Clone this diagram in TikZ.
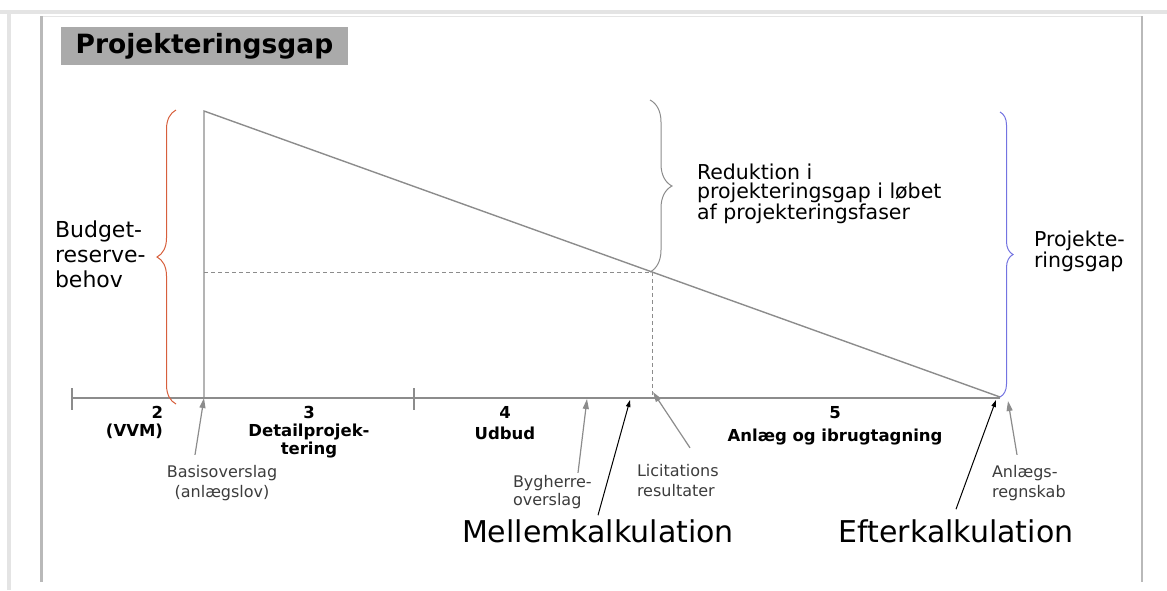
\documentclass[tikz,border=0pt]{standalone}
\usepackage{fontspec}
\setmainfont{DejaVu Sans}
\usetikzlibrary{arrows.meta,decorations.pathreplacing}
\definecolor{linegray}{RGB}{140,140,140}
\definecolor{framegray}{RGB}{185,185,185}
\definecolor{bandgray}{RGB}{228,228,228}
\definecolor{titlegray}{RGB}{170,170,170}
\definecolor{notegray}{RGB}{60,60,60}
\definecolor{bracered}{RGB}{215,95,60}
\definecolor{braceblue}{RGB}{115,115,225}
\begin{document}
\begin{tikzpicture}[x=1pt,y=-1pt,
  txt/.style={inner sep=0pt, outer sep=0pt},
  sidetxt/.style={txt, font=\fontsize{22}{25}\selectfont, align=left},
  gaptxt/.style={txt, font=\fontsize{20.5}{18.5}\selectfont, align=left},
  axislbl/.style={txt, font=\fontsize{16.5}{18}\selectfont\bfseries},
  note/.style={txt, font=\fontsize{16}{20.5}\selectfont, text=notegray},
  bigtxt/.style={txt, font=\fontsize{30}{32}\selectfont},
  mainline/.style={draw=linegray, line width=1.4pt},
  helpline/.style={draw=linegray, line width=0.9pt, dash pattern=on 4pt off 3pt},
  garrow/.style={draw=linegray, line width=1.2pt, -{Triangle[length=10pt,width=6pt,fill=linegray]}},
  karrow/.style={draw=black, line width=1pt, -{Triangle[length=7pt,width=4.5pt]}},
  bracedraw/.style={line width=1pt, decorate},
]
\useasboundingbox (0,0) rectangle (1167,590);

% page frame
\fill[bandgray] (0,10) rectangle (1167,14);
\fill[bandgray] (7,10) rectangle (11,590);
\draw[gray!20, line width=1pt] (41,16.5) -- (1142,16.5);
\draw[framegray, line width=2.6pt] (41.5,16) -- (41.5,582);
\draw[framegray, line width=2pt] (1142,16) -- (1142,582);

% title
\node[txt, fill=titlegray, minimum width=287pt, minimum height=38pt,
      font=\fontsize{26.5}{28}\selectfont\bfseries] (title) at (204.5,46) {Projekteringsgap};

% main geometry
\coordinate (top) at (204,111);
\coordinate (origin) at (204,398);
\coordinate (axisL) at (72,398);
\coordinate (axisR) at (1000,398);
\coordinate (endpt) at (1000,397);
\coordinate (mid) at (652,272);
\coordinate (midbase) at (652,398);
\coordinate (midleft) at (204,272);
\coordinate (tickA) at (72,398);
\coordinate (tickB) at (414,398);

\draw[mainline] (origin) -- (top) -- (endpt);
\draw[mainline, line width=1.1pt] (axisL) -- (axisR);
\draw[mainline, line width=1.1pt] ([yshift=10pt]tickA) -- ([yshift=-12pt]tickA);
\draw[mainline, line width=1.1pt] ([yshift=10pt]tickB) -- ([yshift=-12pt]tickB);
\draw[helpline] (midleft) -- (mid) -- (midbase);

% braces
\draw[bracedraw, bracered, decoration={brace, amplitude=19pt}] (176,404) -- (176,110);
\draw[bracedraw, linegray, decoration={brace, amplitude=22pt}] (650,100) -- (650,272);
\draw[bracedraw, braceblue, decoration={brace, amplitude=13pt}] (1000,112) -- (1000,397);

% brace labels (anchored at the baseline of the last line)
\node[sidetxt, anchor=base west] (budget) at (55,287) {Budget-\\reserve-\\behov};
\node[gaptxt, anchor=base west] (reduk) at (697,219) {Reduktion i\\projekteringsgap i løbet\\af projekteringsfaser};
\node[gaptxt, anchor=base west] (pgap) at (1034,267) {Projekte-\\ringsgap};

% phase labels
\node[axislbl, align=right, anchor=base east] (ph2) at (163,436) {2\\(VVM)};
\node[axislbl, align=center, anchor=base] (ph3) at (309,454) {3\\Detailprojek-\\tering};
\node[axislbl, align=center, anchor=base, font=\fontsize{16.5}{21}\selectfont\bfseries] (ph4) at (505,439) {4\\Udbud};
\node[axislbl, align=center, anchor=base, font=\fontsize{16.5}{23}\selectfont\bfseries] (ph5) at (835,441) {5\\Anlæg og ibrugtagning};

% estimate notes
\node[note, align=center, anchor=base] (basis) at (222,497.5) {Basisoverslag\\(anlægslov)};
\node[note, align=left, anchor=base west, font=\fontsize{16}{18.5}\selectfont] (byg) at (513,505.5) {Bygherre-\\overslag};
\node[note, align=left, anchor=base west] (licit) at (637,496.5) {Licitations\\resultater};
\node[note, align=left, anchor=base west] (anlreg) at (992,497.5) {Anlægs-\\regnskab};

\node[bigtxt, anchor=base] (mellem) at (598,542) {Mellemkalkulation};
\node[bigtxt, anchor=base] (efter) at (956,542) {Efterkalkulation};

% arrow targets on the axis
\coordinate (tBasis) at (204,398);
\coordinate (tByg) at (587,399);
\coordinate (tMellem) at (630,400);
\coordinate (tLicit) at (653,392);
\coordinate (tEfter) at (996,400);
\coordinate (tAnl) at (1008,401);

\draw[garrow] ([shift={(-27,-10)}]basis.north) -- (tBasis);
\draw[garrow] ([shift={(65,-2)}]byg.north west) -- (tByg);
\draw[karrow] ([shift={(0,-4)}]mellem.north) -- (tMellem);
\draw[garrow] ([shift={(53,-16)}]licit.north west) -- (tLicit);
\draw[karrow] ([shift={(0,-10)}]efter.north) -- (tEfter);
\draw[garrow] ([shift={(25,-10)}]anlreg.north west) -- (tAnl);
\end{tikzpicture}
\end{document}
